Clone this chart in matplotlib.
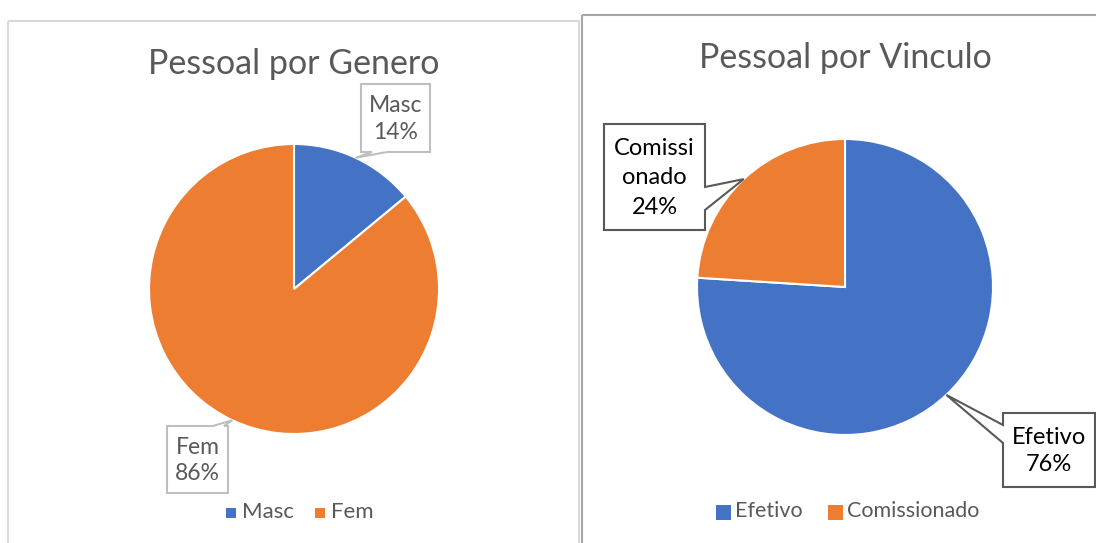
import math
import matplotlib.pyplot as plt
from matplotlib.patches import Rectangle, Polygon

plt.rcParams['font.family'] = ['Lato', 'DejaVu Sans']

W, H = 1096, 543

# dados
genero_labels = ['Masc', 'Fem']
genero_valores = [14, 86]
vinculo_labels = ['Efetivo', 'Comissionado']
vinculo_valores = [76, 24]
cores = ['#4472C4', '#ED7D31']

fig = plt.figure(figsize=(W / 100, H / 100), dpi=100)
fig.patch.set_facecolor('white')


def add_pie(cx, cy, r, valores):
    ax = fig.add_axes([(cx - r) / W, (H - cy - r) / H, 2 * r / W, 2 * r / H])
    ax.pie(valores, colors=cores, startangle=90, counterclock=False, radius=1,
           wedgeprops=dict(edgecolor='white', linewidth=1.5))
    ax.set_xlim(-1, 1)
    ax.set_ylim(-1, 1)
    ax.set_aspect('equal')
    ax.axis('off')
    return ax


# centros e raios das pizzas em pixels
pie_g = (294, 289, 145)
pie_v = (845, 287, 148)
add_pie(*pie_g, genero_valores)
add_pie(*pie_v, vinculo_valores)

# camada de sobreposição em pixels
ov = fig.add_axes([0, 0, 1, 1], zorder=5)
ov.set_xlim(0, W)
ov.set_ylim(H, 0)
ov.axis('off')

# bordas dos painéis
ov.add_patch(Rectangle((8, 21), 571, 540, fill=False, edgecolor='#d9d9d9', lw=1.5))
ov.add_patch(Rectangle((582, 15), 530, 540, fill=False, edgecolor='#a6a6a6', lw=1.5))

ov.text(294, 64, 'Pessoal por Genero', ha='center', va='center', fontsize=24.5, color='#595959')
ov.text(845, 58, 'Pessoal por Vinculo', ha='center', va='center', fontsize=24.5, color='#595959')


def ponta(pie, valores, i):
    cx, cy, r = pie
    total = sum(valores)
    mid = (sum(valores[:i]) + valores[i] / 2) / total * 2 * math.pi
    return cx + r * math.sin(mid), cy - r * math.cos(mid)


def callout(box, lado, base, tip, texto, cor_borda, cor_texto, fs, ls):
    x0, y0, x1, y1 = box
    b1, b2 = base
    if lado == 'bottom':
        pts = [(x0, y0), (x1, y0), (x1, y1), (b2, y1), tip, (b1, y1), (x0, y1)]
    elif lado == 'top':
        pts = [(x0, y0), (b1, y0), tip, (b2, y0), (x1, y0), (x1, y1), (x0, y1)]
    elif lado == 'left':
        pts = [(x0, y0), (x1, y0), (x1, y1), (x0, y1), (x0, b2), tip, (x0, b1)]
    else:
        pts = [(x0, y0), (x1, y0), (x1, b1), tip, (x1, b2), (x1, y1), (x0, y1)]
    ov.add_patch(Polygon(pts, closed=True, facecolor='white', edgecolor=cor_borda,
                         lw=1.5, joinstyle='miter'))
    ov.text((x0 + x1) / 2, (y0 + y1) / 2 + 1, texto, ha='center', va='center',
            fontsize=fs, color=cor_texto, linespacing=ls)


callout((361, 84, 430, 152), 'bottom', (372, 387), ponta(pie_g, genero_valores, 0),
        f'{genero_labels[0]}\n{genero_valores[0]}%', '#bfbfbf', '#595959', 16.5, 1.35)
callout((167, 426, 228, 493), 'top', (213, 224), ponta(pie_g, genero_valores, 1),
        f'{genero_labels[1]}\n{genero_valores[1]}%', '#bfbfbf', '#595959', 16.5, 1.35)
callout((1003, 413, 1095, 487), 'left', (425, 443), ponta(pie_v, vinculo_valores, 0),
        f'{vinculo_labels[0]}\n{vinculo_valores[0]}%', '#595959', 'black', 17, 1.4)
lab = vinculo_labels[1]
callout((604, 124, 705, 230), 'right', (187, 210), ponta(pie_v, vinculo_valores, 1),
        f'{lab[:7]}\n{lab[7:]}\n{vinculo_valores[1]}%', '#595959', 'black', 17, 1.5)

# legendas
for x_sq, nome, cor in zip([226, 315], genero_labels, cores):
    ov.add_patch(Rectangle((x_sq, 508), 10, 10, facecolor=cor, edgecolor='none'))
    ov.text(x_sq + 16, 512, nome, ha='left', va='center', fontsize=16, color='#595959')
for x_sq, nome, cor in zip([716, 828], vinculo_labels, cores):
    ov.add_patch(Rectangle((x_sq, 505), 15, 15, facecolor=cor, edgecolor='none'))
    ov.text(x_sq + 19, 511, nome, ha='left', va='center', fontsize=15.5, color='#595959')

fig.savefig('out.png', dpi=100)
